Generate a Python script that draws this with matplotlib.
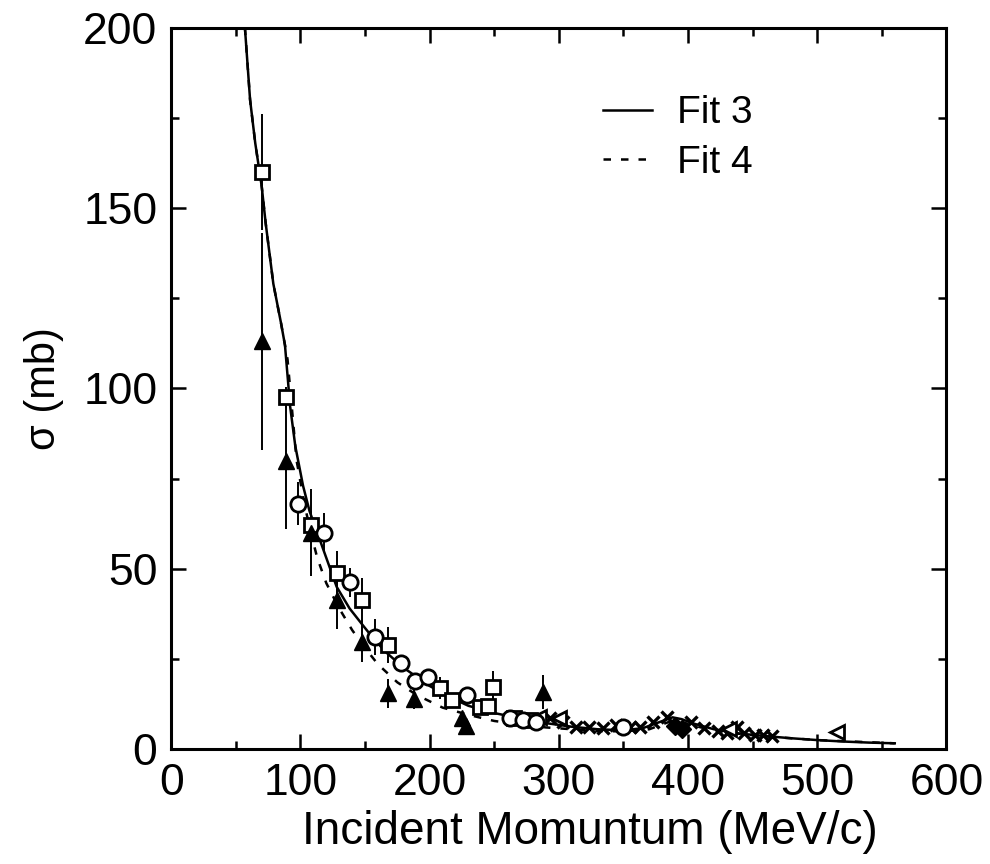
import matplotlib

matplotlib.use("Agg")

import matplotlib.pyplot as plt
from matplotlib.ticker import MultipleLocator

plt.rcParams["font.family"] = ["Liberation Sans", "DejaVu Sans"]

# fit curves
FIT3_X = [57, 61, 65, 70, 73, 79, 85, 88, 92, 96, 102, 107, 113, 120, 128, 138,
          149, 158, 167, 180, 190, 200, 215, 230, 250, 270, 290, 310, 330, 350,
          365, 378, 388, 395, 405, 420, 440, 460, 480, 500, 520, 540, 560]
FIT3_Y = [200, 180, 168, 156, 146, 129, 118, 112, 95, 84, 73, 66, 60, 53, 45, 39,
          34, 30, 26.6, 22.5, 20, 17.5, 14.5, 12, 10, 8.5, 7.2, 6.2, 5.5, 5.2,
          5.8, 7.5, 8.8, 8.3, 7, 5.5, 4.3, 3.6, 3.0, 2.5, 2.1, 1.8, 1.6]

FIT4_X = [57, 61, 65, 70, 73, 79, 85, 90, 97, 103, 108, 113, 120, 130, 140, 150,
          160, 175, 190, 210, 230, 250, 270, 290, 310, 330, 350, 370, 385, 395,
          410, 430, 460, 500, 560]
FIT4_Y = [200, 180, 168, 156, 146, 129, 118, 108, 80, 68, 60, 53, 46, 39, 33, 28,
          23.5, 18.5, 15, 11.5, 9.5, 7.8, 6.8, 6.0, 5.5, 5.0, 4.9, 5.5, 7.5, 7.5,
          6.0, 4.6, 3.5, 2.5, 1.6]

# open squares
SQ_X = [70, 89, 108, 128, 148, 168, 208, 217, 239, 245, 249, 265, 278]
SQ_Y = [160, 97.5, 62, 48.8, 41.3, 28.8, 17, 13.6, 11.7, 12, 17.2, 8.5, 8]
SQ_ERR = [16, 3, 4, 6, 6, 5, 3, 2, 2, 2, 4.5, 1.5, 1.5]

# open circles
CI_X = [98, 118, 138, 158, 178, 189, 199, 229, 262, 272, 282, 350]
CI_Y = [68, 60, 46.3, 31, 23.8, 19, 20, 15, 8.5, 8, 7.5, 6]
CI_ERR = [6, 5.5, 4, 5, 2, 2, 2, 2, 1.5, 1.5, 1.5, 1]

# filled triangles
TR_X = [70, 89, 108, 128, 148, 168, 188, 225, 228, 288]
TR_Y = [113, 80, 60, 41.3, 29.7, 15.5, 14, 8.6, 6.5, 15.8]
TR_ERR = [30, 19, 12, 8, 5.5, 4, 3, 1.5, 1.5, 4.7]

# crosses
CR_X = [293, 303, 313, 323, 334, 344, 355, 363, 373, 384, 402, 412, 423, 430,
        438, 443, 452, 458, 465]
CR_Y = [8.6, 7.5, 6, 6, 5.8, 6.6, 6.2, 6, 7.5, 9, 7.5, 5.8, 4.9, 4.4, 6, 4.5,
        4, 3.8, 3.5]

# left-pointing triangles
LT_X = [285, 300, 432, 515]
LT_Y = [9, 8.5, 5.5, 4.7]

# filled diamonds
DI_X = [390, 395]
DI_Y = [6.5, 5.5]


fig = plt.figure(figsize=(9.9, 8.64), dpi=100)
ax = fig.add_axes([0.173, 0.133, 0.783, 0.835])

ax.plot(FIT3_X, FIT3_Y, color="black", linewidth=1.8, label="Fit 3")
ax.plot(FIT4_X, FIT4_Y, color="black", linewidth=1.8, linestyle=(0, (3, 4)),
        label="Fit 4")

err_kw = dict(linestyle="none", ecolor="black", elinewidth=1.4, capsize=0,
              color="black")
ax.errorbar(SQ_X, SQ_Y, yerr=SQ_ERR, marker="s", markersize=10,
            markerfacecolor="white", markeredgewidth=2.0, **err_kw)
ax.errorbar(CI_X, CI_Y, yerr=CI_ERR, marker="o", markersize=11,
            markerfacecolor="white", markeredgewidth=2.0, **err_kw)
ax.errorbar(TR_X, TR_Y, yerr=TR_ERR, marker="^", markersize=11, **err_kw)
ax.plot(CR_X, CR_Y, linestyle="none", marker="x", markersize=9,
        markeredgewidth=2.4, color="black")
ax.plot(LT_X, LT_Y, linestyle="none", marker="<", markersize=10,
        markerfacecolor="white", markeredgewidth=2.0, color="black")
ax.plot(DI_X, DI_Y, linestyle="none", marker="D", markersize=9, color="black")

ax.set_xlim(0, 600)
ax.set_ylim(0, 200)
ax.xaxis.set_major_locator(MultipleLocator(100))
ax.xaxis.set_minor_locator(MultipleLocator(50))
ax.yaxis.set_major_locator(MultipleLocator(50))
ax.yaxis.set_minor_locator(MultipleLocator(25))
ax.tick_params(which="both", direction="in", top=True, right=True,
               labelsize=32, width=1.8)
ax.tick_params(which="major", length=11, pad=10)
ax.tick_params(which="minor", length=6)
for spine in ax.spines.values():
    spine.set_linewidth(2.2)

ax.set_xlabel("Incident Momuntum (MeV/c)", fontsize=33)
ax.xaxis.set_label_coords(0.54, -0.085)
ax.set_ylabel("σ (mb)", fontsize=30, labelpad=14)

ax.legend(loc="upper left", bbox_to_anchor=(0.512, 0.955), frameon=False,
          fontsize=28, handlelength=1.25, handletextpad=0.65, labelspacing=0.35)

fig.savefig("out.png", dpi=100)
